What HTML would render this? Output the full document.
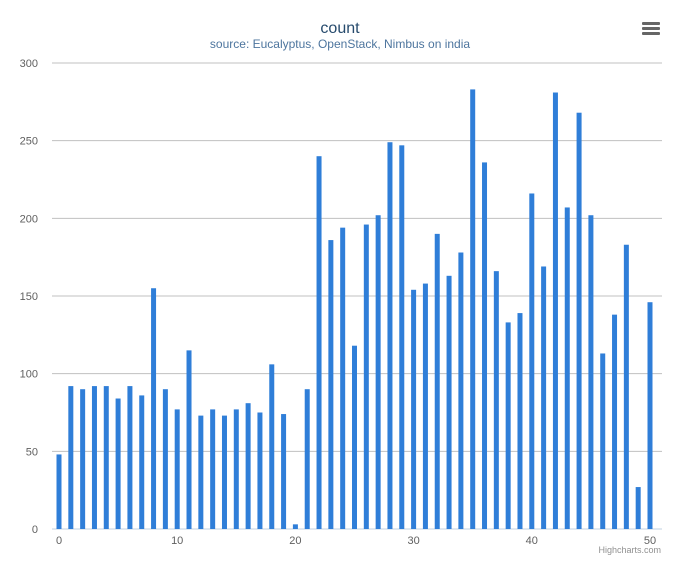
<!DOCTYPE html>
<html><head><meta charset="utf-8"><style>
body{margin:0;background:#fff;font-family:"Liberation Sans","DejaVu Sans",sans-serif}
</style></head><body>
<svg id="chart" width="680" height="566" xmlns="http://www.w3.org/2000/svg" style="font-family:'Liberation Sans','DejaVu Sans',sans-serif">
<rect width="680" height="566" fill="#fff"/>
<text x="340" y="33" text-anchor="middle" font-size="16" fill="#274b6d">count</text>
<text x="340" y="48" text-anchor="middle" font-size="12" fill="#4d759e">source: Eucalyptus, OpenStack, Nimbus on india</text>
<g>
<rect x="642" y="22" width="18" height="3" rx="1" fill="#666"/>
<rect x="642" y="27" width="18" height="3" rx="1" fill="#666"/>
<rect x="642" y="32" width="18" height="3" rx="1" fill="#666"/>
</g>
<g id="grid"></g><g id="bars"></g><g id="axes"></g>
<text x="661" y="553" text-anchor="end" font-size="9" fill="#909090">Highcharts.com</text>
</svg>
<script>
const categories=[];for(let i=0;i<=50;i++)categories.push(i);
const values=[48,92,90,92,92,84,92,86,155,90,77,115,73,77,73,77,81,75,106,74,3,90,240,186,194,118,196,202,249,247,154,158,190,163,178,283,236,166,133,139,216,169,281,207,268,202,113,138,183,27,146];
const yTicks=[0,50,100,150,200,250,300];
const xTicks=[0,10,20,30,40,50];
const NS="http://www.w3.org/2000/svg";
const y0=529,y1=63,left=52,right=662;
const yS=v=>y0-(v/300)*(y0-y1);
const xS=i=>59+i*(650-59)/50;
function mk(t,a,p){const e=document.createElementNS(NS,t);for(const k in a)e.setAttribute(k,a[k]);p.appendChild(e);return e;}
const grid=document.getElementById('grid'),bars=document.getElementById('bars'),axes=document.getElementById('axes');
yTicks.forEach(v=>{
 const l=mk('line',{x1:left,x2:right,y1:yS(v),y2:yS(v),stroke:v===0?'#c0d0e0':'#c0c0c0','stroke-width':1},grid);
 
 
 const t=mk('text',{x:38,y:yS(v)+4,'text-anchor':'end','font-size':11,fill:'#606060'},axes);
 t.textContent=v;
 
 
});
xTicks.forEach(v=>{
 const t=mk('text',{x:xS(v),y:544,'text-anchor':'middle','font-size':11,fill:'#606060'},axes);
 t.textContent=v;
 
 
});
values.forEach((v,i)=>{
 const r=mk('rect',{x:xS(categories[i])-2.5,y:yS(v),width:5,height:y0-yS(v),fill:'#2f7ed8'},bars);
 
 
});
</script>
</body></html>
